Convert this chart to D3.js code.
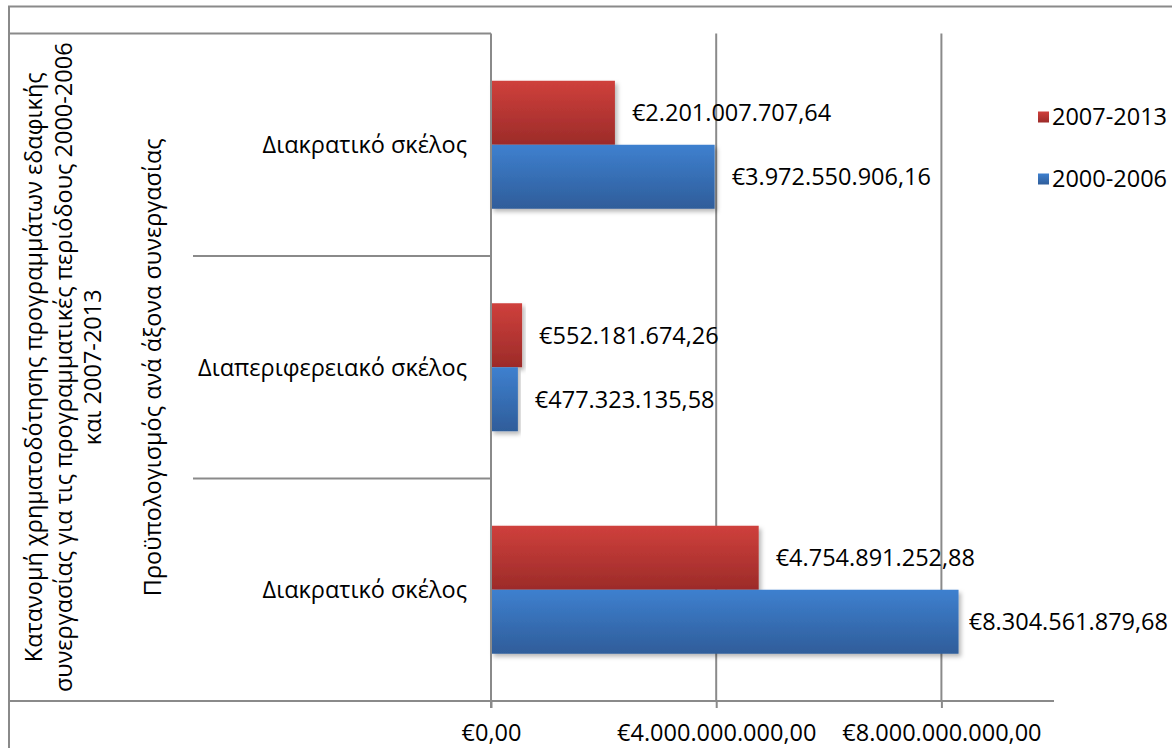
<!DOCTYPE html>
<html>
<head>
<meta charset="utf-8">
<script src="https://cdn.jsdelivr.net/npm/d3@7"></script>
<style>
  html, body { margin: 0; padding: 0; background: #fff; }
  svg { display: block; }
  text { font-family: "Open Sans", "Noto Sans", sans-serif; fill: #000; }
</style>
</head>
<body>
<svg id="chart" width="1172" height="748"></svg>
<script>
// Funding of territorial cooperation programmes, per strand
const categories = ["Διακρατικό σκέλος", "Διαπεριφερειακό σκέλος", "Διακρατικό σκέλος"];
const seriesNames = ["2007-2013", "2000-2006"];
const values2007 = [2201007707.64, 552181674.26, 4754891252.88];
const values2000 = [3972550906.16, 477323135.58, 8304561879.68];
const tickValues = [0, 4000000000, 8000000000];
const groupTitle = "Προϋπολογισμός ανά άξονα συνεργασίας";
const outerTitle = [
  "Κατανομή χρηματοδότησης προγραμμάτων εδαφικής",
  "συνεργασίας για τις προγραμματικές περιόδους 2000-2006",
  "και 2007-2013"
];

const seriesValues = { "2007-2013": values2007, "2000-2006": values2000 };

const W = 1172, H = 748;
const plot = { left: 491, right: 1054, top: 33.5, bottom: 701 };
const lineColor = "#8a8a8a";
const fontSize = 23.5;

const euro = d3.formatLocale({ decimal: ",", thousands: ".", grouping: [3], currency: ["€", ""] });
const fmt = euro.format("$,.2f");

const svg = d3.select("#chart");
const defs = svg.append("defs");

// bar gradients (light top, darker bottom)
const gradStops = {
  "2007-2013": ["#cf403c", "#9c2b29"],
  "2000-2006": ["#3e80cf", "#2f5d9a"]
};
seriesNames.forEach((s, i) => {
  const g = defs.append("linearGradient")
    .attr("id", "grad" + i).attr("x1", 0).attr("y1", 0).attr("x2", 0).attr("y2", 1);
  g.append("stop").attr("offset", "0%").attr("stop-color", gradStops[s][0]);
  g.append("stop").attr("offset", "100%").attr("stop-color", gradStops[s][1]);
});
const f = defs.append("filter").attr("id", "shadow")
  .attr("x", "-5%").attr("y", "-10%").attr("width", "115%").attr("height", "140%");
f.append("feDropShadow").attr("dx", 2.5).attr("dy", 3).attr("stdDeviation", 2)
  .attr("flood-color", "#000").attr("flood-opacity", 0.28);

// scales
const x = d3.scaleLinear().domain([0, 10000000000]).range([plot.left, plot.right]);
const y = d3.scaleBand().domain(d3.range(categories.length))
  .range([plot.top, plot.bottom]).paddingInner(0.4247).paddingOuter(0.2124);
const ySub = d3.scaleBand().domain(seriesNames).range([0, y.bandwidth()]);
const step = y.step();

// outer chart frame (runs past the right and bottom edges)
svg.append("rect").attr("x", 9).attr("y", 6.5).attr("width", W + 40).attr("height", H + 40)
  .attr("fill", "none").attr("stroke", lineColor).attr("stroke-width", 2);

// vertical gridlines
svg.append("g").selectAll("line").data(tickValues.filter(d => d > 0)).join("line")
  .attr("x1", d => x(d)).attr("x2", d => x(d))
  .attr("y1", plot.top).attr("y2", plot.bottom)
  .attr("stroke", lineColor).attr("stroke-width", 2);

// bars
const groups = svg.append("g").selectAll("g").data(categories).join("g")
  .attr("transform", (d, i) => `translate(0,${y(i)})`);

seriesNames.forEach((s, si) => {
  groups.append("rect")
    .attr("x", x(0))
    .attr("y", ySub(s))
    .attr("width", (d, i) => x(seriesValues[s][i]) - x(0))
    .attr("height", ySub.bandwidth())
    .attr("fill", `url(#grad${si})`)
    .attr("filter", "url(#shadow)");
});

// value labels
seriesNames.forEach(s => {
  groups.append("text")
    .attr("x", (d, i) => x(seriesValues[s][i]) + 17)
    .attr("y", ySub(s) + ySub.bandwidth() / 2)
    .attr("dy", "0.36em")
    .attr("font-size", fontSize)
    .text((d, i) => fmt(seriesValues[s][i]))
    .each(function () {
      const w = this.getComputedTextLength();
      const x0 = +this.getAttribute("x");
      if (x0 + w > W - 4) this.setAttribute("x", W - 4 - w);
    });
});

// value axis
const xAxis = d3.axisBottom(x).tickValues(tickValues).tickSize(7).tickFormat(fmt);
const gx = svg.append("g").attr("transform", `translate(0,${plot.bottom})`).call(xAxis);
gx.select(".domain").remove();
gx.selectAll(".tick line").attr("stroke", lineColor).attr("stroke-width", 2);
gx.selectAll(".tick text").attr("y", 40).attr("dy", 0)
  .attr("font-size", fontSize).attr("font-family", null).attr("fill", "#000");

// category axis line and multi-level frame lines
svg.append("line").attr("x1", plot.left).attr("x2", plot.left)
  .attr("y1", plot.top).attr("y2", plot.bottom + 7)
  .attr("stroke", lineColor).attr("stroke-width", 2);
svg.append("line").attr("x1", 9).attr("x2", plot.left)
  .attr("y1", plot.top).attr("y2", plot.top)
  .attr("stroke", lineColor).attr("stroke-width", 2);
svg.append("line").attr("x1", 9).attr("x2", plot.right)
  .attr("y1", plot.bottom).attr("y2", plot.bottom)
  .attr("stroke", lineColor).attr("stroke-width", 2);
svg.append("g").selectAll("line").data(d3.range(1, categories.length)).join("line")
  .attr("x1", 193).attr("x2", plot.left)
  .attr("y1", i => plot.top + i * step).attr("y2", i => plot.top + i * step)
  .attr("stroke", lineColor).attr("stroke-width", 2);

// category labels
svg.append("g").selectAll("text").data(categories).join("text")
  .attr("x", 467)
  .attr("y", (d, i) => plot.top + (i + 0.5) * step)
  .attr("dy", "0.36em")
  .attr("text-anchor", "end")
  .attr("font-size", fontSize)
  .text(d => d);

// group title (rotated)
const midY = (plot.top + plot.bottom) / 2;
svg.append("text")
  .attr("transform", `translate(161,${midY}) rotate(-90)`)
  .attr("text-anchor", "middle")
  .attr("font-size", fontSize)
  .text(groupTitle);

// outer title (rotated, three lines)
svg.append("g").selectAll("text").data(outerTitle).join("text")
  .attr("transform", (d, i) => `translate(${42 + i * 29.5},${midY}) rotate(-90)`)
  .attr("text-anchor", "middle")
  .attr("font-size", fontSize)
  .text(d => d);

// legend
const legend = svg.append("g").selectAll("g").data(seriesNames).join("g")
  .attr("transform", (d, i) => `translate(1038,${117 + i * 62})`);
legend.append("rect").attr("x", 0).attr("y", -5.5).attr("width", 11).attr("height", 11)
  .attr("fill", (d, i) => `url(#grad${i})`);
legend.append("text").attr("x", 14).attr("dy", "0.36em")
  .attr("font-size", fontSize).text(d => d);
</script>
</body>
</html>
